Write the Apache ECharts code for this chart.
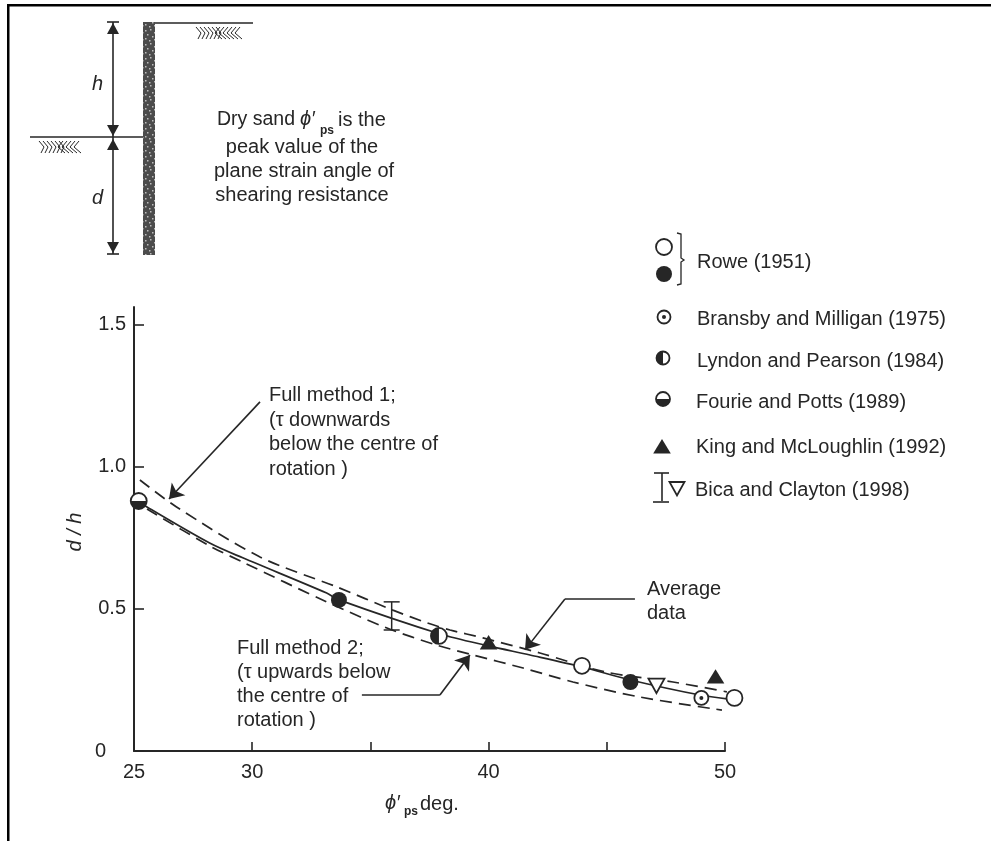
<!DOCTYPE html>
<html>
<head>
<meta charset="utf-8">
<title>d/h against phi'ps</title>
<style>
  html, body { margin: 0; padding: 0; background: #fff; }
  #chart { width: 991px; height: 841px; }
</style>
</head>
<body>
<div id="chart"></div>
<script src="https://cdn.jsdelivr.net/npm/echarts@6/dist/echarts.min.js"></script>
<script>
// tick labels
var xTickValues = [25, 30, 35, 40, 45, 50];
var xLabelValues = [25, 30, 40, 50];
var yTickValues = [0, 0.5, 1, 1.5];

// curves
var averageLine = [[25.2, 0.88], [25.55, 0.859], [28.2, 0.732], [29.6, 0.68], [33.15, 0.556], [33.67, 0.532], [37.95, 0.412], [40, 0.37], [41.75, 0.338], [43.95, 0.296], [46, 0.25], [48.95, 0.197], [50.4, 0.18]];
var method1Line = [[25.25, 0.954], [26.8, 0.859], [30.33, 0.683], [33.6, 0.577], [35.95, 0.496], [37.4, 0.451], [38.37, 0.426], [39.76, 0.398], [42.17, 0.345], [44.95, 0.278], [47.8, 0.243], [50.08, 0.208]];
var method2Line = [[25.55, 0.852], [28.2, 0.722], [29.6, 0.665], [33.15, 0.525], [35.7, 0.433], [37.8, 0.373], [39.34, 0.338], [41.46, 0.292], [43.57, 0.243], [46.4, 0.19], [49.87, 0.144]];

// test results
var roweOpen = [[43.95, 0.3], [50.4, 0.187]];
var roweFilled = [[33.67, 0.532], [46, 0.243]];
var bransby = [[49, 0.187]];
var lyndon = [[37.9, 0.405]];
var fourie = [[25.2, 0.88]];
var king = [[40, 0.38], [49.6, 0.26]];
var bica = [[47.1, 0.232]];
var bicaRange = [[35.9, 0.426, 0.525]];

// annotation leaders, last point carries the arrow head
var leaderMethod1 = [[30.33, 1.229], [26.48, 0.887]];
var leaderMethod2 = [[34.64, 0.197], [37.94, 0.197], [39.21, 0.338]];
var leaderAverage = [[46.19, 0.535], [43.23, 0.535], [41.54, 0.356]];

var INK = '#262626';
var FONT = '"Liberation Sans", Arial, sans-serif';

var chart = echarts.init(document.getElementById('chart'));

// one marker of the key / of the plot
function markerChildren(kind, x, y, r) {
  var line = { stroke: INK, lineWidth: 1.8, fill: '#fff' };
  var solid = { fill: INK };
  if (kind === 'triangle') {
    return [{ type: 'polygon', shape: { points: [[x, y - r], [x + r * 1.1, y + r * 0.8], [x - r * 1.1, y + r * 0.8]] }, style: solid }];
  }
  if (kind === 'triangleDown') {
    return [{ type: 'polygon', shape: { points: [[x - r, y - r * 0.8], [x + r, y - r * 0.8], [x, y + r]] }, style: line }];
  }
  if (kind === 'filled') {
    return [{ type: 'circle', shape: { cx: x, cy: y, r: r }, style: solid }];
  }
  var out = [{ type: 'circle', shape: { cx: x, cy: y, r: r }, style: line }];
  if (kind === 'dot') {
    out.push({ type: 'circle', shape: { cx: x, cy: y, r: 2 }, style: solid });
  }
  if (kind === 'halfLeft') {
    out.push({ type: 'sector', shape: { cx: x, cy: y, r0: 0, r: r, startAngle: Math.PI / 2, endAngle: Math.PI * 1.5 }, style: solid });
  }
  if (kind === 'halfBottom') {
    out.push({ type: 'sector', shape: { cx: x, cy: y, r0: 0, r: r, startAngle: 0, endAngle: Math.PI }, style: solid });
  }
  return out;
}

function markerSeries(name, kind, r, data) {
  return {
    name: name,
    type: 'custom',
    data: data,
    z: 5,
    encode: { x: 0, y: 1 },
    renderItem: function (params, api) {
      var p = api.coord([api.value(0), api.value(1)]);
      return { type: 'group', children: markerChildren(kind, p[0], p[1], r) };
    }
  };
}

function curveSeries(name, data, dashed) {
  return {
    name: name,
    type: 'line',
    data: data,
    showSymbol: false,
    symbol: 'none',
    smooth: 0.3,
    clip: false,
    z: 3,
    lineStyle: { color: INK, width: 1.7, type: dashed ? [12, 7] : 'solid' }
  };
}

function leaderPairs(points) {
  var pairs = [];
  for (var i = 0; i < points.length - 1; i++) {
    pairs.push([
      { coord: points[i], symbol: 'none' },
      { coord: points[i + 1], symbol: i === points.length - 2 ? 'arrow' : 'none' }
    ]);
  }
  return pairs;
}

function text(str, x, y, size, extra) {
  var style = { text: str, fill: INK, font: (size || 20) + 'px ' + FONT, textVerticalAlign: 'middle' };
  for (var k in extra) style[k] = extra[k];
  return { type: 'text', x: x, y: y, style: style, silent: true };
}

function seg(x1, y1, x2, y2, w) {
  return { type: 'line', shape: { x1: x1, y1: y1, x2: x2, y2: y2 }, style: { stroke: INK, lineWidth: w || 1.6 }, silent: true };
}

function head(x, y, dir) {
  return { type: 'polygon', shape: { points: [[x, y], [x - 6, y - dir * 11], [x + 6, y - dir * 11]] }, style: { fill: INK }, silent: true };
}

// soil hatching under a ground line, strokes fan out from the middle
function hatch(x0, x1, y0) {
  var out = [];
  var mid = (x0 + x1) / 2;
  for (var x = x0; x < x1; x += 4) {
    var lean = x < mid ? 5 : -5;
    out.push(seg(x, y0, x + lean, y0 + 6, 1));
    out.push(seg(x + lean, y0 + 6, x + 2, y0 + 12, 1));
  }
  return out;
}

// speckled fill for the wall
function wallPattern() {
  var c = document.createElement('canvas');
  c.width = 12;
  c.height = 14;
  var g = c.getContext('2d');
  g.fillStyle = '#4c4c4c';
  g.fillRect(0, 0, 12, 14);
  g.fillStyle = '#bdbdbd';
  [[1, 2], [6, 1], [10, 4], [3, 6], [8, 8], [1, 10], [5, 12], [10, 11]].forEach(function (d) {
    g.fillRect(d[0], d[1], 1.5, 1.5);
  });
  return c;
}

var graphics = [
  // scan frame
  { type: 'rect', shape: { x: 7, y: 4, width: 984, height: 2.5 }, style: { fill: '#000' }, silent: true },
  { type: 'rect', shape: { x: 7, y: 4, width: 2.5, height: 837 }, style: { fill: '#000' }, silent: true },

  // retaining wall sketch
  { type: 'rect', shape: { x: 143, y: 22, width: 12, height: 233 }, style: { fill: { image: wallPattern(), repeat: 'repeat' } }, silent: true },
  seg(155, 23, 253, 23),
  seg(30, 137, 143, 137),
  seg(113, 22, 113, 254),
  seg(107, 22, 119, 22),
  seg(107, 254, 119, 254),
  head(113, 23, -1),
  head(113, 136, 1),
  head(113, 139, -1),
  head(113, 253, 1),
  text('h', 92, 84, 20, { font: 'italic 20px ' + FONT }),
  text('d', 92, 198, 20, { font: 'italic 20px ' + FONT }),

  text('Dry sand', 217, 120, 19.5),
  text('\u03d5\u2032', 300, 119, 20, { font: 'italic 20px ' + FONT }),
  text('ps', 320, 131, 12, { font: 'bold 12px ' + FONT }),
  text('is the', 338, 120, 20),
  text('peak value of the', 302, 147, 20, { textAlign: 'center' }),
  text('plane strain angle of', 304, 171, 20, { textAlign: 'center' }),
  text('shearing resistance', 302, 195, 20, { textAlign: 'center' }),

  // annotations
  text('Full method 1;', 269, 395),
  text('(\u03c4 downwards', 269, 420),
  text('below the centre of', 269, 444),
  text('rotation )', 269, 469),
  text('Full method 2;', 237, 648),
  text('(\u03c4 upwards below', 237, 672),
  text('the centre of', 237, 696),
  text('rotation )', 237, 720),
  text('Average', 647, 589),
  text('data', 647, 613),

  // axis titles
  { type: 'text', x: 75, y: 532, rotation: Math.PI / 2, silent: true, style: { text: 'd / h', fill: INK, font: 'italic 20px ' + FONT, textAlign: 'center', textVerticalAlign: 'middle' } },
  text('\u03d5\u2032', 385, 803, 20, { font: 'italic 20px ' + FONT }),
  text('ps', 404, 812, 12, { font: 'bold 12px ' + FONT }),
  text('deg.', 420, 804, 20),

  // key
  { type: 'polyline', shape: { points: [[677, 233], [681, 234], [681, 258], [684, 260], [681, 262], [681, 284], [677, 285]] }, style: { stroke: INK, lineWidth: 1.3, fill: 'none' }, silent: true },
  text('Rowe (1951)', 697, 262),
  text('Bransby and Milligan (1975)', 697, 319),
  text('Lyndon and Pearson (1984)', 697, 361),
  text('Fourie and Potts (1989)', 696, 402),
  text('King and McLoughlin (1992)', 696, 447),
  text('Bica and Clayton (1998)', 695, 490),
  seg(662, 473, 662, 501),
  seg(654, 473, 669, 473),
  seg(653, 502, 669, 502)
].concat(hatch(196, 244, 27), hatch(39, 83, 141));

[
  ['open', 664, 247, 8], ['filled', 664, 274, 8], ['dot', 664, 317, 6.5],
  ['halfLeft', 663, 358, 6.5], ['halfBottom', 663, 399, 7],
  ['triangle', 662, 447, 8], ['triangleDown', 677, 488, 7.5]
].forEach(function (k) {
  graphics.push({ type: 'group', silent: true, children: markerChildren(k[0], k[1], k[2], k[3]) });
});

chart.setOption({
  animation: false,
  backgroundColor: '#fff',
  grid: { left: 134, right: 266, top: 307, bottom: 90 },
  xAxis: {
    type: 'value',
    min: 25,
    max: 50,
    splitLine: { show: false },
    axisLine: { lineStyle: { color: INK, width: 2 } },
    axisTick: { customValues: xTickValues, inside: true, length: 9, lineStyle: { color: INK, width: 1.6 } },
    axisLabel: { customValues: xLabelValues, color: INK, fontFamily: FONT, fontSize: 20, margin: 11 }
  },
  yAxis: {
    type: 'value',
    min: 0,
    max: 1.563,
    splitLine: { show: false },
    axisLine: { lineStyle: { color: INK, width: 2 } },
    axisTick: { customValues: yTickValues, inside: true, length: 10, lineStyle: { color: INK, width: 1.6 } },
    axisLabel: {
      customValues: yTickValues,
      color: INK,
      fontFamily: FONT,
      fontSize: 20,
      margin: 8,
      formatter: function (v) { return v === 0 ? '{z|0}' : v.toFixed(1); },
      rich: { z: { color: INK, fontFamily: FONT, fontSize: 20, padding: [0, 20, 0, 0] } }
    }
  },
  graphic: graphics,
  series: [
    curveSeries('Average data', averageLine, false),
    curveSeries('Full method 1', method1Line, true),
    curveSeries('Full method 2', method2Line, true),
    {
      name: 'Annotations',
      type: 'line',
      data: [],
      z: 4,
      markLine: {
        silent: true,
        animation: false,
        symbolSize: 14,
        label: { show: false },
        lineStyle: { color: INK, width: 1.6, type: 'solid' },
        emphasis: { disabled: true },
        data: leaderPairs(leaderMethod1).concat(leaderPairs(leaderMethod2), leaderPairs(leaderAverage))
      }
    },
    {
      name: 'Bica and Clayton range',
      type: 'custom',
      data: bicaRange,
      z: 4,
      encode: { x: 0, y: [1, 2] },
      renderItem: function (params, api) {
        var lo = api.coord([api.value(0), api.value(1)]);
        var hi = api.coord([api.value(0), api.value(2)]);
        var st = { stroke: INK, lineWidth: 1.5 };
        return {
          type: 'group',
          children: [
            { type: 'line', shape: { x1: lo[0], y1: lo[1], x2: hi[0], y2: hi[1] }, style: st },
            { type: 'line', shape: { x1: lo[0] - 8, y1: lo[1], x2: lo[0] + 8, y2: lo[1] }, style: st },
            { type: 'line', shape: { x1: hi[0] - 8, y1: hi[1], x2: hi[0] + 8, y2: hi[1] }, style: st }
          ]
        };
      }
    },
    markerSeries('Rowe (1951)', 'open', 8, roweOpen),
    markerSeries('Rowe (1951) filled', 'filled', 8, roweFilled),
    markerSeries('Bransby and Milligan (1975)', 'dot', 7, bransby),
    markerSeries('Lyndon and Pearson (1984)', 'halfLeft', 8, lyndon),
    markerSeries('Fourie and Potts (1989)', 'halfBottom', 8, fourie),
    markerSeries('King and McLoughlin (1992)', 'triangle', 8, king),
    markerSeries('Bica and Clayton (1998)', 'triangleDown', 8, bica)
  ]
});
</script>
</body>
</html>
